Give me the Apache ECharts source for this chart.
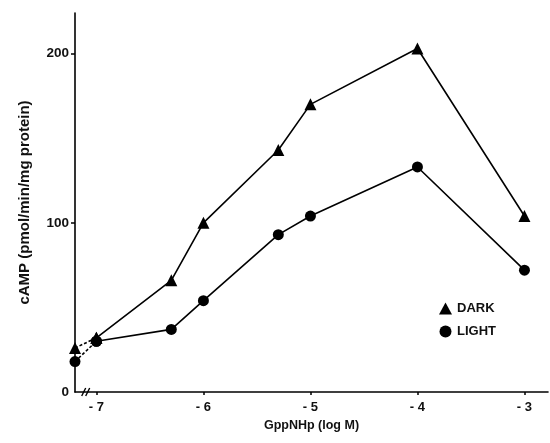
<!DOCTYPE html>
<html>
<head>
<meta charset="utf-8">
<script src="https://cdn.jsdelivr.net/npm/echarts@6/dist/echarts.min.js"></script>
<style>html,body{margin:0;padding:0;background:#fff}#c{width:550px;height:443px}</style>
</head>
<body>
<div id="c"></div>
<script>
// log M concentrations (control value plotted at axis start)
var controlX = -7.2;
var concX = [-7, -6.3, -6, -5.3, -5, -4, -3];
var darkControl = 26;
var darkY = [32, 66, 100, 143, 170, 203, 104];
var lightControl = 18;
var lightY = [30, 37, 54, 93, 104, 133, 72];
var xTicks = [-7, -6, -5, -4, -3];
var yTicks = [100, 200];
var yLabels = [0, 100, 200];

function pairs(xs, ys){ return xs.map(function(x,i){ return [x, ys[i]]; }); }

var font = '"Liberation Sans", Arial, sans-serif';
var chart = echarts.init(document.getElementById('c'), null, {renderer:'canvas'});
var lineStyle = {color:'#000', width:1.6};
chart.setOption({
  animation:false,
  backgroundColor:'#fff',
  grid:{left:75, right:2, top:13, bottom:51},
  legend:{
    orient:'vertical', left:434, top:297, itemGap:10, itemWidth:13, itemHeight:12,
    textStyle:{fontFamily:font, fontSize:13, fontWeight:'bold', color:'#111'},
    data:[{name:'DARK', icon:'triangle'}, {name:'LIGHT', icon:'circle'}]
  },
  xAxis:{
    type:'value', min:-7.2, max:-2.78,
    name:'GppNHp (log M)', nameLocation:'middle', nameGap:27,
    nameTextStyle:{fontFamily:font, fontSize:12.5, fontWeight:'bold', color:'#111'},
    axisLine:{lineStyle:{color:'#000', width:1.6}},
    axisTick:{show:true, length:3, customValues:xTicks, lineStyle:{color:'#000', width:1.5}},
    axisLabel:{customValues:xTicks, margin:9, fontFamily:font, fontSize:13, fontWeight:'bold', color:'#111',
      formatter:function(v){ return String(v).replace('-', '- '); }},
    splitLine:{show:false}
  },
  yAxis:{
    type:'value', min:0, max:224,
    name:'cAMP (pmol/min/mg protein)', nameLocation:'middle', nameGap:43, nameRotate:90,
    nameTextStyle:{fontFamily:font, fontSize:15, fontWeight:'bold', color:'#111'},
    axisLine:{show:true, lineStyle:{color:'#000', width:1.6}},
    axisTick:{show:true, length:4, customValues:yTicks, lineStyle:{color:'#000', width:1.5}},
    axisLabel:{customValues:yLabels, margin:6, fontFamily:font, fontSize:13.5, fontWeight:'bold', color:'#111'},
    splitLine:{show:false}
  },
  series:[
    {name:'DARK', type:'line', data:pairs(concX, darkY), symbol:'triangle', symbolSize:12,
      itemStyle:{color:'#000'}, lineStyle:lineStyle, clip:false, z:3},
    {name:'LIGHT', type:'line', data:pairs(concX, lightY), symbol:'circle', symbolSize:11,
      itemStyle:{color:'#000'}, lineStyle:lineStyle, clip:false, z:3},
    {name:'DARK ctrl', type:'line', data:[[controlX, darkControl],[concX[0], darkY[0]]], symbol:'triangle', symbolSize:12,
      itemStyle:{color:'#000'}, lineStyle:{color:'#000', width:1.6, type:[3,2]}, clip:false, z:3},
    {name:'LIGHT ctrl', type:'line', data:[[controlX, lightControl],[concX[0], lightY[0]]], symbol:'circle', symbolSize:11,
      itemStyle:{color:'#000'}, lineStyle:{color:'#000', width:1.6, type:[3,2]}, clip:false, z:3}
  ]
});
// axis break marks "//"
var p = chart.convertToPixel({gridIndex:0}, [-7.1, 0]);
var mk = [];
[-2, 2].forEach(function(dx){
  mk.push({type:'line', shape:{x1:p[0]+dx-2, y1:p[1]+4, x2:p[0]+dx+2, y2:p[1]-4}, style:{stroke:'#000', lineWidth:1.4}, z:10});
});
chart.setOption({graphic:mk});
</script>
</body>
</html>
